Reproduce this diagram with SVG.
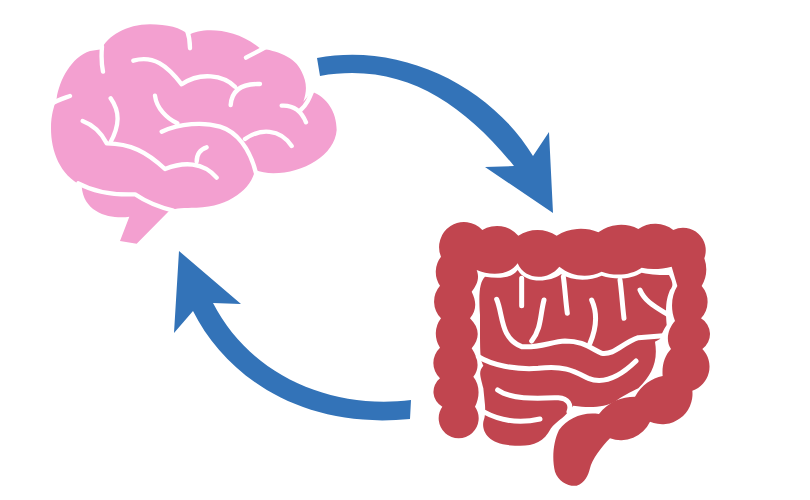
<svg xmlns="http://www.w3.org/2000/svg" width="810" height="500" viewBox="0 0 810 500">
<style>
.brain{fill:#f3a0d0}
.gut{fill:#c1454f}
.arrow{fill:#3373b8}
.gap{fill:none;stroke:#fff;stroke-linecap:round;stroke-linejoin:round}
.b{stroke-width:13}
.g{stroke-width:15}
</style>
<rect width="810" height="500" fill="#fff"/>
<g id="brain" transform="translate(40 15) scale(.33333)">
<path class="brain" d="M33,340C33,300 42,275 50,250C58,195 95,125 150,108L185,103C200,65 260,28 330,28C380,28 425,38 445,60C490,35 590,40 660,100C710,108 765,125 785,170C800,200 802,225 790,260L815,230C860,245 890,290 890,345C885,420 790,475 700,475C680,475 660,470 645,465C635,520 570,575 470,578C430,578 410,580 390,585L290,686L240,678L268,605C220,612 130,600 125,512C60,480 33,410 33,340Z"/>
<path class="gap b" d="M186,95C183,130 185,150 189,170M25,272C50,255 70,250 90,243M441,45C450,70 450,85 450,100M618,128C635,118 650,112 680,95M280,137C340,120 380,150 425,208C480,170 550,180 585,215M572,270C575,230 600,205 660,207M345,242C350,280 380,310 412,325M365,350C420,325 490,320 540,335C590,350 630,400 648,475M615,372C660,340 720,340 755,393M818,225C808,250 800,270 782,285M725,272C760,270 785,290 798,322M212,250C240,290 240,330 210,385M128,318C160,330 185,355 200,385C270,385 320,410 375,462C430,440 490,440 530,488M500,397C475,405 470,425 470,440M115,505C170,535 230,540 285,538C310,555 350,575 400,587"/>
</g>
<g id="gut" transform="translate(425 215) scale(.33333)">
<path class="gut" d="M48,125A75,75 0 0 1 172,45A85,85 0 0 1 280,62A105,105 0 0 1 395,62A138,138 0 0 1 520,52A115,115 0 0 1 640,42A90,90 0 0 1 745,45A68,68 0 0 1 838,130A100,100 0 0 1 830,213A72,72 0 0 1 828,310A55,55 0 0 1 832,402A76,76 0 0 1 802,527A91,91 0 0 1 675,620A97,97 0 0 1 555,670C530,695 500,735 495,760C490,780 480,805 455,812C430,815 400,800 390,770C380,730 385,680 402,645C430,610 470,590 522,597C550,560 590,545 630,545C650,510 680,490 713,483C710,450 720,420 738,402C720,375 730,340 750,318C735,280 740,240 757,213L740,155C710,162 680,165 650,158C620,180 570,185 530,170C490,190 440,185 403,155C370,197 300,197 278,145C250,185 190,180 155,165C165,190 155,210 140,230C155,260 155,285 135,310C165,340 165,370 140,400C160,430 165,460 145,485C165,510 165,545 150,575A60,60 0 1 1 52,575A51,51 0 0 1 45,490A63,63 0 0 1 45,398A76,76 0 0 1 48,310A72,72 0 0 1 45,212A74,74 0 0 1 48,125Z"/>
<path class="gut" d="M180,185C220,192 260,190 278,165C300,205 370,205 408,178C440,197 490,200 530,182C570,195 620,193 650,173C680,180 710,180 732,180C745,205 745,212 735,225C725,250 720,270 725,330C715,345 708,360 705,372L690,380C700,440 680,480 640,520C620,530 590,545 570,560C540,575 500,580 445,572L430,590C415,610 392,620 378,640C355,685 320,695 270,692C190,690 170,650 175,620C178,610 182,600 180,570L175,520C165,480 160,470 175,452C165,430 165,420 165,300C160,230 165,200 180,185Z"/>
<path class="gap g" d="M215,253C235,300 225,370 290,395C340,400 380,380 420,378C470,378 490,395 530,415C570,420 590,385 640,368L715,362M357,255C345,300 350,340 320,378M500,255C520,300 510,350 495,385M290,190L290,272M415,185C420,220 422,260 427,295M585,195C590,230 592,270 597,310M645,225C660,260 690,275 730,300M160,425C200,450 270,465 340,460C420,450 450,470 490,490C540,510 590,480 633,438M218,525C260,555 340,550 400,548C430,550 440,570 432,590M175,590C230,620 290,625 345,612"/>
</g>
<g id="connectors">
<path id="arrow-brain-gut" class="arrow" d="M317,58C400,42 490,85 533,156L549,132L553,213L485,167L514,166C460,100 400,62 320,76Z"/>
<path id="arrow-gut-brain" class="arrow" d="M411,400C330,410 250,375 213,303L241,304L179,251L174,333L193,311C225,375 300,430 410,419Z"/>
</g>
</svg>
